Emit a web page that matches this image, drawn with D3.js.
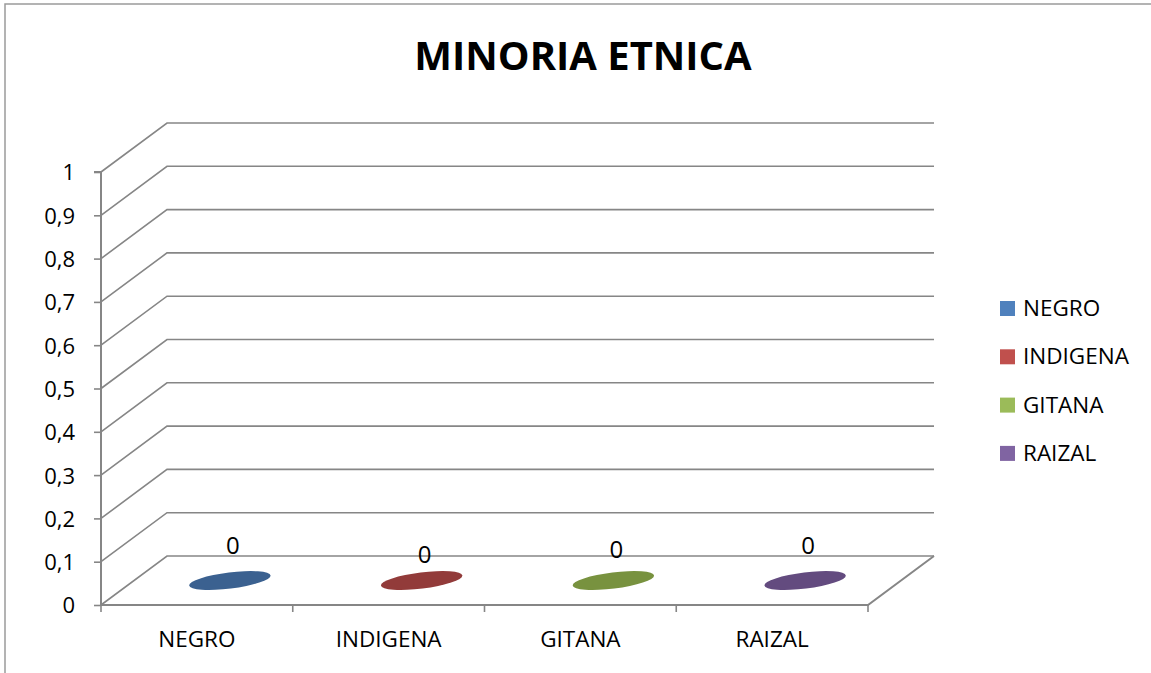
<!DOCTYPE html>
<html>
<head>
<meta charset="utf-8">
<script src="https://cdn.jsdelivr.net/npm/d3@7"></script>
<style>
  html, body { margin: 0; padding: 0; background: #fff; }
  svg { display: block; }
  text { font-family: "Open Sans", "Liberation Sans", sans-serif; fill: #000; }
</style>
</head>
<body>
<svg id="chart" width="1151" height="673"></svg>
<script>
const title = "MINORIA ETNICA";
const categories = ["NEGRO", "INDIGENA", "GITANA", "RAIZAL"];
const seriesNames = ["NEGRO", "INDIGENA", "GITANA", "RAIZAL"];
const seriesValues = [0, 0, 0, 0];
const yTicks = [0, 0.1, 0.2, 0.3, 0.4, 0.5, 0.6, 0.7, 0.8, 0.9, 1];
const legendColors = ["#4f81bd", "#c0504d", "#9bbb59", "#8064a2"];
const topColors = ["#3b6190", "#923b3a", "#78923f", "#634b7f"];
const labelDy = [0, 9, 4, 0];

const svg = d3.select("#chart");
const W = 1151, H = 673;

// outer chart border
svg.append("rect").attr("x", 5).attr("y", 4).attr("width", W + 10).attr("height", H + 10)
  .attr("fill", "#fff").attr("stroke", "#9a9a9a").attr("stroke-width", 1.5);

// title
svg.append("text").attr("x", 583).attr("y", 70).attr("text-anchor", "middle")
  .attr("font-size", 40).attr("font-weight", "bold").text(title);

// scales
const y = d3.scaleLinear().domain([0, 1]).range([605, 172]);
const x = d3.scaleBand().domain(categories).range([101, 868]).padding(0);
const depthX = 66, depthY = -49;
const gridColor = "#868686";

const g = svg.append("g");

const xLeft = x.range()[0], xRight = x.range()[1];
yTicks.forEach(t => {
  const yy = y(t);
  g.append("path")
    .attr("d", d3.line()([[xLeft, yy], [xLeft + depthX, yy + depthY], [xRight + depthX, yy + depthY]]))
    .attr("fill", "none").attr("stroke", gridColor).attr("stroke-width", 1.6);
});

const y0 = y(0);
g.append("path")
  .attr("d", d3.line()([[xLeft, y0], [xRight, y0], [xRight + depthX, y0 + depthY]]))
  .attr("fill", "none").attr("stroke", gridColor).attr("stroke-width", 2);

// y axis
const yAxis = d3.axisLeft(y).tickValues(yTicks).tickSize(7).tickPadding(19)
  .tickFormat(d => d3.format("~g")(d).replace(".", ","));
const ya = svg.append("g").attr("transform", `translate(${xLeft},0)`).call(yAxis);
ya.select(".domain").attr("stroke", gridColor).attr("stroke-width", 2)
  .attr("d", `M-7,${y(1)}H0V${y0}`);
ya.selectAll(".tick line").attr("stroke", gridColor).attr("stroke-width", 1.6);
ya.selectAll(".tick text").attr("font-size", 22).attr("font-family", "Open Sans, sans-serif")
  .attr("fill", "#000").attr("dy", "0.36em");

// x axis ticks at band edges
const edges = categories.map(c => x(c)).concat([xRight]);
edges.forEach(e => {
  g.append("line").attr("x1", e).attr("x2", e).attr("y1", y0).attr("y2", y0 + 7)
    .attr("stroke", gridColor).attr("stroke-width", 1.6);
});
categories.forEach(c => {
  svg.append("text").attr("x", x(c) + x.bandwidth() / 2).attr("y", 647)
    .attr("text-anchor", "middle").attr("font-size", 22.5).text(c);
});

// zero-height columns drawn as ellipses on the floor (mid-depth)
seriesValues.forEach((v, i) => {
  const cx = x(categories[i]) + x.bandwidth() / 2 + depthX / 2;
  const cy = y(v) + depthY / 2;
  svg.append("ellipse").attr("cx", cx).attr("cy", cy).attr("rx", 41).attr("ry", 8)
    .attr("transform", `rotate(-7 ${cx} ${cy})`)
    .attr("fill", topColors[i]);
  svg.append("text").attr("x", cx + 3).attr("y", cy - 27 + labelDy[i])
    .attr("text-anchor", "middle").attr("font-size", 24).text(d3.format("~g")(v));
});

// legend
const leg = svg.append("g");
seriesNames.forEach((s, i) => {
  const by = 316 + i * 48.3;
  leg.append("rect").attr("x", 1000).attr("y", by - 15).attr("width", 15).attr("height", 15)
    .attr("fill", legendColors[i]);
  leg.append("text").attr("x", 1023).attr("y", by).attr("font-size", 22.5).text(s);
});
</script>
</body>
</html>
